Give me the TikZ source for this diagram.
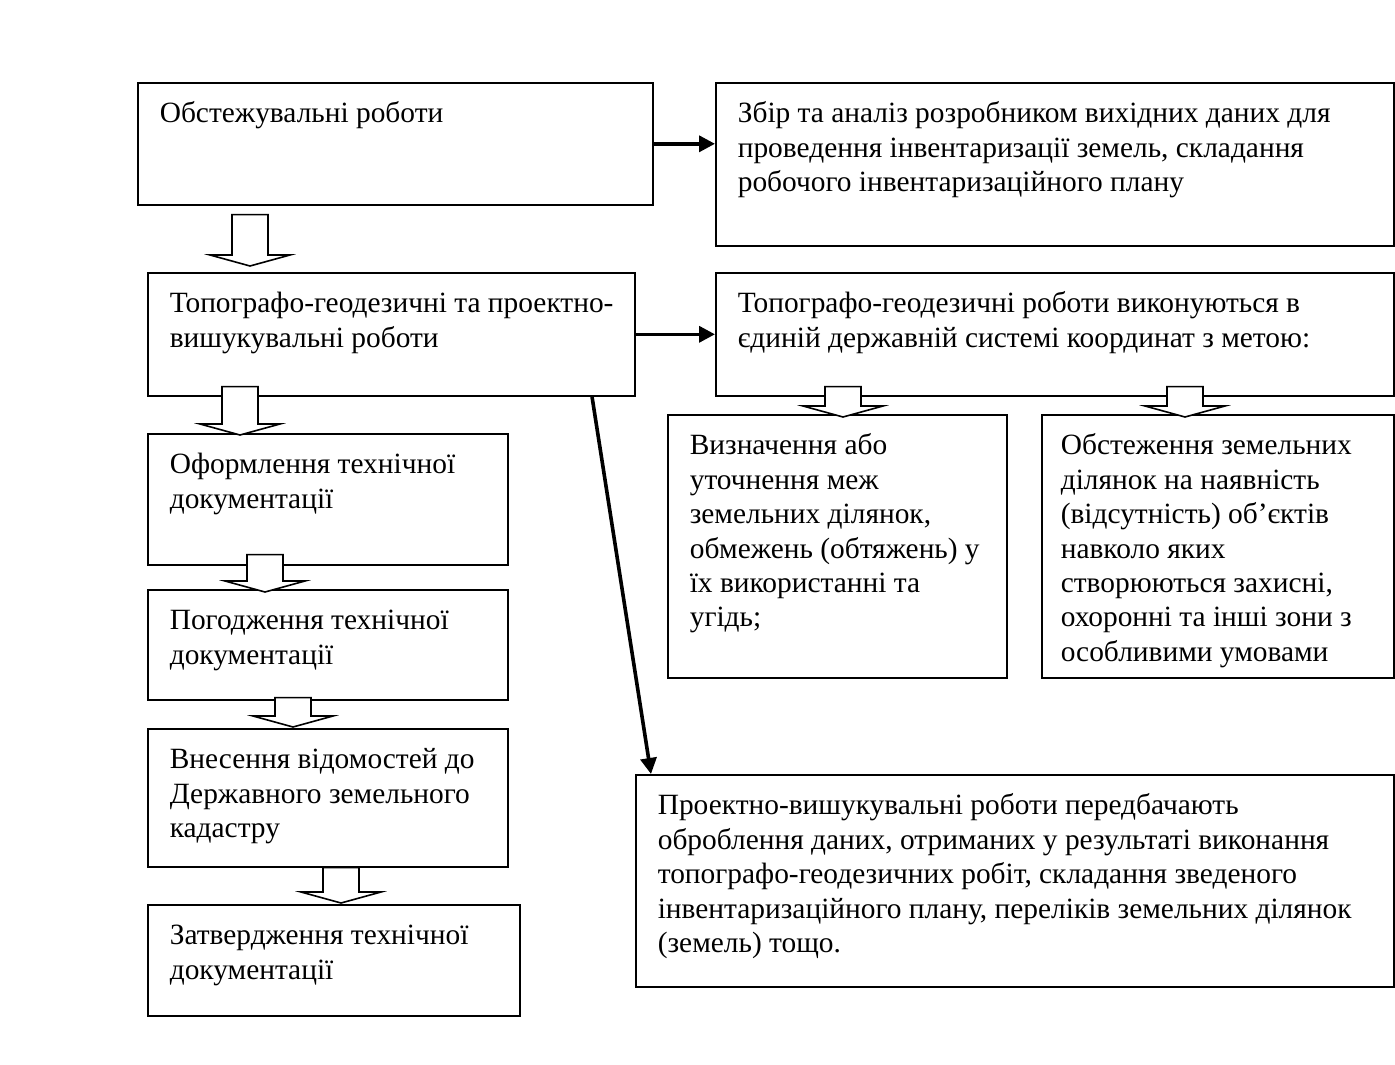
\documentclass[tikz,border=0pt]{standalone}
\usepackage{fontspec}
\setmainfont{Liberation Serif}
\usepackage{tikz}
\usetikzlibrary{arrows.meta, positioning, calc}
\newcommand{\boxtext}[3]{\parbox[t][#2][t]{#1}{\begin{tabular}[t]{@{}l@{}}#3\end{tabular}}}

\begin{document}
\begin{tikzpicture}[
    x=0.5pt, y=-0.5pt,
    stage/.style={draw, line width=0.8pt, anchor=north west, inner xsep=11pt, inner ysep=8pt, font=\fontsize{14.7}{17.2}\selectfont},
    line/.style={draw, -{Triangle[length=8pt, width=8pt]}, line width=1.8pt},
    hollow/.style={draw, line width=0.8pt, fill=white, to path={let \p1=(\tikztostart), \p2=(\tikztotarget) in
        (\x1-9pt,\y1) -- (\x1-9pt,\y2+5.5pt) -- (\x1-20pt,\y2+5.5pt) -- (\x1,\y2) -- (\x1+20pt,\y2+5.5pt) -- (\x1+9pt,\y2+5.5pt) -- (\x1+9pt,\y1) -- cycle}}
]
\useasboundingbox (0,0) rectangle (1395,1064);

% Nodes
\node (ob) [stage] at (137,82) {\boxtext{235.5pt}{45pt}{Обстежувальні роботи}};
\node (zbir) [stage] at (715,82) {\boxtext{317pt}{65.5pt}{Збір та аналіз розробником вихідних даних для\\ проведення інвентаризації земель, складання\\ робочого інвентаризаційного плану}};
\node (topo) [stage] at (147,272) {\boxtext{221.5pt}{45.5pt}{Топографо-геодезичні та проектно-\\ вишукувальні роботи}};
\node (tgr) [stage] at (715,272) {\boxtext{317pt}{45.5pt}{Топографо-геодезичні роботи виконуються в\\ єдиній державній системі координат з метою:}};
\node (vyzn) [stage] at (667,414) {\boxtext{147.5pt}{115.5pt}{Визначення або\\ уточнення меж\\ земельних ділянок,\\ обмежень (обтяжень) у\\ їх використанні та\\ угідь;}};
\node (obst) [stage, inner xsep=9.5pt] at (1041,414) {\boxtext{157pt}{115.5pt}{Обстеження земельних\\ ділянок на наявність\\ (відсутність) об’єктів\\ навколо яких\\ створюються захисні,\\ охоронні та інші зони з\\ особливими умовами}};
\node (oform) [stage] at (147,433) {\boxtext{158pt}{49.5pt}{Оформлення технічної\\ документації}};
\node (pogodzh) [stage] at (147,589) {\boxtext{158pt}{39pt}{Погодження технічної\\ документації}};
\node (vnes) [stage] at (147,728) {\boxtext{158pt}{53pt}{Внесення відомостей до\\ Державного земельного\\ кадастру}};
\node (zatv) [stage] at (147,904) {\boxtext{164pt}{39.5pt}{Затвердження технічної\\ документації}};
\node (proekt) [stage] at (635,774) {\boxtext{357pt}{90pt}{Проектно-вишукувальні роботи передбачають\\ оброблення даних, отриманих у результаті виконання\\ топографо-геодезичних робіт, складання зведеного\\ інвентаризаційного плану, переліків земельних ділянок\\ (земель) тощо.}};

% Block arrows
\draw [hollow] ([xshift=56.5pt, yshift=-4.5pt]ob.south west) to ([xshift=51.5pt, yshift=3pt]topo.north west);
\draw [hollow] ([xshift=46.5pt, yshift=5pt]topo.south west) to ([xshift=46.5pt, yshift=-1pt]oform.north west);
\draw [hollow] ([xshift=59pt, yshift=5.5pt]oform.south west) to ([xshift=59pt, yshift=-1.5pt]pogodzh.north west);
\draw [hollow] ([xshift=73pt, yshift=1.5pt]pogodzh.south west) to ([xshift=73pt, yshift=0.5pt]vnes.north west);
\draw [hollow] ([xshift=97pt]vnes.south west) to ([xshift=97pt, yshift=0.5pt]zatv.north west);
\draw [hollow] ([xshift=64pt, yshift=5pt]tgr.south west) to ([xshift=88pt, yshift=-1.5pt]vyzn.north west);
\draw [hollow] ([xshift=235pt, yshift=5pt]tgr.south west) to ([xshift=72pt, yshift=-1.5pt]obst.north west);

% Connectors
\path [line] (ob.east) -- (zbir.west |- ob.east);
\path [line] (topo.east) -- (tgr.west |- topo.east);
\path [line] ([xshift=222.5pt]topo.south west) -- ([xshift=8pt]proekt.north west);

\end{tikzpicture}
\end{document}
